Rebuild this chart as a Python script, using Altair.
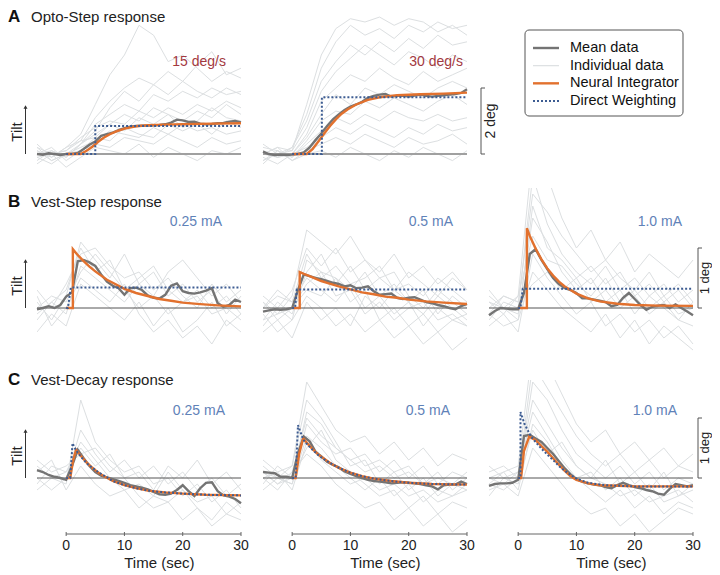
import altair as alt
import pandas as pd

FONT = "Liberation Sans"

# ---------------- data ----------------
T_MEAN = list(range(-5, 31))
T_IND = [-5, -2.5, 0, 2.5, 5, 7.5, 10, 12.5, 15, 17.5, 20, 22.5, 25, 27.5, 30]
T_SPAN = [-5, 30]

ROW_LETTERS = ["A", "B", "C"]
ROW_TITLES = ["Opto-Step response", "Vest-Step response", "Vest-Decay response"]
PANEL_LABELS = [["15 deg/s", "30 deg/s"],
                ["0.25 mA", "0.5 mA", "1.0 mA"],
                ["0.25 mA", "0.5 mA", "1.0 mA"]]
LEGEND_NAMES = ["Mean data", "Individual data", "Neural Integrator", "Direct Weighting"]
X_TICKS = [0, 10, 20, 30]
X_AXIS_SPAN = [0, 30]
SCALE_BARS = [2, 1, 1]
SCALE_LABELS = ["2 deg", "1 deg", "1 deg"]
X_TITLE = "Time (sec)"

# Row A: Opto-Step
A1_MEAN = [0.0, -0.02, 0.02, 0.0, -0.03, 0.0, 0.0, 0.03, 0.15, 0.28, 0.38, 0.55, 0.6, 0.65, 0.72, 0.78,
           0.83, 0.85, 0.86, 0.86, 0.87, 0.88, 0.9, 0.95, 1.04, 1.02, 0.97, 0.98, 0.92, 0.9, 0.91, 0.93,
           0.94, 0.98, 1.0, 0.96]
A1_NI_T = [0, 2.5, 3.5, 4.5, 5.5, 6.5, 7.5, 8.5, 10, 12, 14, 17, 20, 25, 30]
A1_NI_V = [0, 0, 0.1, 0.22, 0.37, 0.5, 0.6, 0.68, 0.77, 0.84, 0.87, 0.89, 0.9, 0.92, 0.93]
A1_DW_T = [0, 5, 5, 30]
A1_DW_V = [0, 0, 0.85, 0.85]
A1_IND = [
    [0.1, -0.1, 0.2, 0.6, 1.5, 2.4, 3.0, 3.9, 3.6, 2.8, 3.0, 2.6, 2.2, 2.5, 2.3],
    [-0.2, 0.1, -0.1, 0.3, 0.9, 1.2, 1.5, 1.3, 1.8, 1.6, 1.9, 1.7, 2.0, 1.8, 1.9],
    [0.2, 0.0, 0.1, 0.5, 0.8, 1.0, 0.9, 1.3, 1.1, 1.4, 1.2, 1.5, 1.3, 1.6, 1.4],
    [-0.1, -0.3, 0.0, 0.2, 0.4, 0.7, 0.6, 0.5, 0.8, 0.6, 0.9, 0.7, 0.8, 0.6, 0.7],
    [0.0, 0.2, -0.2, 0.1, 0.3, 0.2, 0.5, 0.4, 0.3, 0.6, 0.4, 0.2, 0.5, 0.3, 0.4],
    [0.3, -0.1, 0.2, 0.4, 1.1, 1.6, 2.0, 2.3, 2.1, 2.5, 2.2, 2.7, 3.1, 2.4, 2.6],
    [-0.3, 0.0, -0.4, -0.1, 0.2, 0.1, 0.0, 0.3, -0.1, 0.2, 0.0, -0.2, 0.1, 0.0, 0.2],
    [0.1, -0.2, 0.0, 0.3, 0.6, 0.9, 1.2, 1.0, 1.4, 1.2, 1.0, 1.3, 1.1, 1.5, 1.2],
    [0.0, 0.1, -0.1, 0.3, 0.7, 1.4, 1.9, 1.6, 2.1, 1.8, 2.2, 1.9, 1.7, 2.0, 1.8],
    [-0.1, 0.0, 0.1, 0.4, 0.5, 0.9, 0.7, 1.1, 0.9, 1.2, 0.8, 1.0, 1.4, 1.1, 1.0],
    [0.2, -0.2, 0.0, 0.1, 0.5, 0.4, 0.8, 0.6, 0.5, 0.9, 0.7, 0.9, 0.6, 1.0, 0.8],
]

A2_MEAN = [0.07, 0.0, -0.03, -0.02, -0.03, -0.02, 0.0, 0.05, 0.2, 0.42, 0.62, 0.85, 1.05, 1.2, 1.33, 1.44,
           1.5, 1.58, 1.7, 1.76, 1.8, 1.82, 1.74, 1.76, 1.77, 1.74, 1.77, 1.8, 1.76, 1.74, 1.76, 1.78,
           1.8, 1.82, 1.85, 1.96]
A2_NI_T = [0, 2.5, 3.5, 4.5, 5.5, 6.5, 7.5, 8.5, 9.5, 11, 13, 15, 18, 22, 26, 30]
A2_NI_V = [0, 0, 0.15, 0.38, 0.62, 0.85, 1.05, 1.22, 1.35, 1.5, 1.64, 1.72, 1.78, 1.81, 1.83, 1.86]
A2_DW_T = [0, 5.1, 5.1, 30]
A2_DW_V = [0, 0, 1.72, 1.72]
A2_IND = [
    [0.0, 0.2, 0.1, 1.5, 3.0, 3.8, 4.1, 4.0, 4.15, 3.9, 4.1, 4.0, 3.7, 3.9, 3.6],
    [-0.2, 0.0, 0.2, 1.0, 2.2, 2.8, 3.3, 3.0, 3.4, 3.1, 3.5, 3.2, 3.6, 3.3, 3.4],
    [0.1, -0.1, 0.0, 0.6, 1.6, 2.0, 2.4, 2.2, 2.6, 2.3, 2.1, 2.5, 2.2, 2.4, 2.6],
    [0.2, 0.1, -0.1, 0.4, 1.0, 1.3, 1.2, 1.6, 1.4, 1.7, 1.5, 1.3, 1.6, 1.8, 1.5],
    [-0.1, -0.3, 0.0, 0.2, 0.5, 0.8, 0.6, 0.9, 0.7, 0.5, 0.8, 0.6, 0.9, 0.7, 0.8],
    [0.0, 0.2, -0.2, 0.1, 0.3, 0.5, 0.3, 0.6, 0.4, 0.2, 0.5, 0.3, 0.4, 0.6, 0.3],
    [0.3, 0.0, 0.1, 0.8, 1.9, 2.5, 2.9, 3.3, 3.0, 2.7, 3.1, 2.9, 2.6, 3.0, 2.8],
    [-0.3, 0.1, -0.2, 0.0, 0.1, -0.1, 0.2, 0.0, -0.2, 0.1, -0.1, 0.2, 0.0, -0.2, 0.1],
    [0.1, -0.1, 0.0, 0.5, 1.2, 1.8, 1.5, 2.0, 1.8, 2.1, 1.9, 1.7, 2.0, 2.2, 2.0],
    [-0.2, 0.1, -0.1, 0.3, 0.7, 1.1, 0.9, 1.2, 1.0, 1.3, 1.1, 1.0, 1.2, 1.0, 1.1],
    [0.0, -0.1, 0.2, 1.2, 2.6, 3.4, 3.9, 3.6, 3.8, 3.5, 3.9, 3.7, 4.0, 3.8, 3.9],
]

# Row B: Vest-Step
B1_MEAN = [-0.02, 0.0, 0.03, 0.0, 0.05, 0.19, 0.26, 0.78, 0.8, 0.76, 0.7, 0.56, 0.44, 0.37, 0.33, 0.22,
           0.33, 0.34, 0.3, 0.21, 0.17, 0.16, 0.22, 0.37, 0.41, 0.28, 0.25, 0.24, 0.26, 0.29, 0.33, 0.08,
           0.02, 0.05, 0.14, 0.1]
B1_NI_T = [0, 1.15, 1.15, 2, 3, 4, 5, 6, 7, 8, 10, 12, 14, 16, 18, 20, 23, 26, 30]
B1_NI_V = [0, 0, 0.98, 0.88, 0.78, 0.69, 0.61, 0.54, 0.47, 0.42, 0.32, 0.25, 0.2, 0.15, 0.12, 0.09,
           0.064, 0.044, 0.027]
B1_DW_T = [0, 0.3, 0.8, 30]
B1_DW_V = [0, 0, 0.34, 0.34]
B1_IND = [
    [0.1, -0.2, 0.2, 1.1, 0.8, 0.5, 0.9, 0.4, 0.6, 0.2, 0.4, 0.1, 0.3, -0.1, 0.2],
    [-0.2, 0.1, -0.1, 0.7, 0.5, 0.3, 0.1, 0.4, 0.2, -0.1, 0.1, 0.3, 0.0, 0.2, -0.1],
    [0.3, 0.0, 0.4, 0.9, 1.0, 0.7, 0.5, 0.6, 0.3, 0.5, 0.2, 0.0, 0.4, 0.1, 0.3],
    [-0.4, -0.1, -0.3, 0.4, 0.2, 0.0, -0.2, 0.1, -0.3, 0.0, -0.4, -0.2, 0.1, -0.3, -0.1],
    [0.0, 0.2, 0.1, 0.6, 0.9, 0.6, 0.3, 0.0, 0.2, 0.6, 0.8, 0.5, 0.2, 0.4, 0.1],
    [0.2, -0.3, 0.0, 0.5, 0.3, 0.1, 0.4, -0.1, -0.4, -0.2, -0.5, -0.3, -0.6, -0.2, -0.4],
    [-0.1, 0.1, 0.3, 1.0, 0.6, 0.8, 0.3, 0.5, 0.7, 0.3, 0.1, 0.2, -0.1, 0.0, -0.2],
]

B2_MEAN = [-0.06, -0.04, -0.02, -0.03, -0.02, 0.0, 0.3, 0.56, 0.53, 0.5, 0.48, 0.45, 0.42, 0.4, 0.36, 0.38,
           0.33, 0.34, 0.36, 0.28, 0.22, 0.23, 0.24, 0.17, 0.15, 0.17, 0.18, 0.14, 0.1, 0.08, 0.05, 0.03,
           0.0, -0.02, 0.03, 0.07]
B2_NI_T = [0, 1.3, 1.3, 2, 3, 4, 5, 6, 8, 10, 12, 14, 16, 18, 20, 23, 26, 30]
B2_NI_V = [0, 0, 0.6, 0.57, 0.53, 0.49, 0.45, 0.42, 0.36, 0.31, 0.26, 0.23, 0.19, 0.17, 0.14, 0.11,
           0.09, 0.066]
B2_DW_T = [0, 0.5, 0.8, 30]
B2_DW_V = [0, 0, 0.31, 0.31]
B2_IND = [
    [0.1, -0.1, 0.2, 1.3, 1.1, 0.9, 1.2, 0.8, 0.6, 0.9, 0.5, 0.7, 0.4, 0.6, 0.3],
    [-0.3, 0.0, -0.2, 0.8, 0.6, 0.5, 0.3, 0.6, 0.2, 0.4, 0.1, 0.3, -0.1, 0.2, 0.0],
    [0.0, 0.2, 0.1, 0.5, 0.3, 0.1, 0.4, 0.0, 0.2, -0.1, 0.1, -0.3, 0.0, -0.2, -0.1],
    [-0.1, -0.4, -0.2, 0.2, 0.0, -0.3, -0.1, -0.4, -0.2, -0.5, -0.3, -0.6, -0.4, -0.7, -0.5],
    [0.2, 0.0, 0.3, 1.0, 0.7, 1.0, 0.6, 0.8, 0.5, 0.3, 0.6, 0.4, 0.2, 0.5, 0.3],
    [-0.2, 0.1, -0.1, 0.6, 0.9, 0.4, 0.7, 0.3, 0.5, 0.6, 0.2, 0.0, 0.3, 0.1, -0.1],
    [0.1, -0.2, 0.0, 0.3, 0.2, 0.5, 0.1, 0.3, -0.2, 0.0, -0.3, -0.1, -0.4, -0.2, -0.3],
    [-0.4, -0.2, -0.5, 0.1, -0.2, 0.0, -0.3, 0.2, 0.0, 0.3, 0.1, -0.1, 0.2, 0.0, -0.2],
    [0.0, 0.3, 0.1, 0.9, 0.5, 0.7, 0.4, 0.5, 0.7, 0.3, 0.4, 0.2, 0.5, 0.3, 0.1],
    [-0.2, -0.1, 0.0, 0.4, 0.6, 0.2, 0.3, -0.1, 0.1, -0.2, 0.0, 0.1, -0.2, -0.1, -0.3],
]

B3_MEAN = [-0.12, -0.05, 0.0, -0.01, -0.02, -0.02, 0.25, 0.9, 0.98, 0.8, 0.65, 0.5, 0.4, 0.33, 0.3, 0.25,
           0.16, 0.16, 0.14, 0.12, 0.1, 0.03, 0.05, 0.17, 0.25, 0.15, 0.05, -0.03, 0.02, 0.04, 0.05, 0.0,
           0.06, 0.0, -0.06, -0.12]
B3_NI_T = [0, 1.5, 1.5, 2, 3, 4, 5, 6, 7, 8, 9, 10, 12, 14, 17, 20, 24, 30]
B3_NI_V = [0, 0, 1.33, 1.2, 0.99, 0.81, 0.66, 0.54, 0.44, 0.36, 0.3, 0.24, 0.16, 0.11, 0.07, 0.05,
           0.04, 0.035]
B3_DW_T = [0, 0.4, 0.8, 30]
B3_DW_V = [0, 0, 0.32, 0.32]
B3_IND = [
    [0.1, -0.1, 0.2, 2.6, 2.2, 1.5, 1.0, 1.3, 0.8, 1.1, 0.6, 0.9, 0.7, 0.5, 0.8],
    [-0.2, 0.1, 0.0, 2.2, 1.4, 0.9, 0.6, 0.4, 0.7, 0.3, 0.5, 0.2, 0.4, 0.1, 0.3],
    [0.2, 0.0, -0.1, 1.5, 1.1, 0.6, 0.3, 0.5, 0.1, 0.3, -0.1, 0.2, 0.0, -0.2, 0.1],
    [-0.3, -0.1, -0.4, 0.9, 0.5, 0.2, -0.1, 0.1, -0.3, -0.1, -0.4, -0.2, -0.5, -0.3, -0.6],
    [0.0, 0.2, 0.1, 1.9, 1.6, 1.2, 0.9, 0.6, 0.8, 0.5, 0.3, 0.6, 0.2, 0.4, 0.1],
    [-0.1, -0.3, -0.2, 0.6, 0.3, 0.0, -0.2, -0.4, -0.1, -0.5, -0.2, -0.6, -0.3, -0.5, -0.7],
    [0.3, 0.0, 0.2, 1.2, 0.8, 0.7, 0.4, 0.2, 0.5, 0.1, 0.3, 0.0, 0.2, -0.1, 0.0],
    [0.1, 0.0, -0.2, 1.7, 1.0, 0.8, 0.5, 0.7, 0.4, 0.6, 0.2, 0.4, 0.1, 0.3, 0.0],
    [-0.1, 0.2, 0.1, 0.4, 0.6, 0.3, 0.5, 0.1, 0.3, 0.0, 0.2, -0.1, 0.1, -0.2, -0.3],
]

# Row C: Vest-Decay
C1_MEAN = [0.13, 0.1, 0.05, 0.02, 0.0, -0.03, 0.2, 0.47, 0.33, 0.2, 0.1, 0.04, 0.01, -0.02, -0.05, -0.08,
           -0.12, -0.14, -0.16, -0.19, -0.23, -0.27, -0.28, -0.26, -0.2, -0.12, -0.22, -0.3, -0.17, -0.08,
           -0.07, -0.22, -0.29, -0.31, -0.35, -0.42]
C1_NI_T = [0, 0.7, 1.2, 1.7, 2.5, 3.5, 4.5, 5.5, 6.5, 8, 10, 12, 14, 17, 20, 24, 30]
C1_NI_V = [0, 0, 0.3, 0.47, 0.37, 0.26, 0.17, 0.09, 0.03, -0.05, -0.12, -0.17, -0.21, -0.24, -0.26,
           -0.28, -0.29]
C1_DW_T = [0, 0.7, 1.1, 1.7, 2.5, 3.5, 4.5, 5.5, 6.5, 8, 10, 12, 14, 17, 20, 24, 30]
C1_DW_V = [0, 0, 0.58, 0.46, 0.36, 0.25, 0.17, 0.1, 0.04, -0.05, -0.12, -0.17, -0.21, -0.24, -0.26,
           -0.28, -0.29]
C1_IND = [
    [0.2, 0.0, -0.1, 1.3, 0.6, 0.3, 0.1, 0.2, -0.1, 0.0, -0.3, -0.1, -0.4, -0.2, -0.5],
    [-0.1, 0.2, 0.1, 0.6, 0.3, 0.0, -0.2, -0.1, -0.3, 0.1, -0.2, -0.4, -0.3, -0.6, -0.4],
    [0.3, 0.1, 0.2, 0.4, 0.5, 0.2, 0.0, -0.3, -0.5, -0.4, -0.7, -0.5, -0.8, -0.6, -0.7],
    [0.0, -0.2, 0.0, 0.8, 0.4, 0.1, 0.3, 0.0, 0.2, -0.1, 0.1, -0.2, 0.0, -0.3, -0.1],
    [0.1, 0.3, -0.2, 0.2, -0.1, -0.3, -0.2, -0.5, -0.3, -0.4, -0.2, -0.5, -0.7, -0.4, -0.6],
    [-0.2, 0.0, 0.1, 0.5, 0.2, 0.4, 0.0, 0.1, -0.2, 0.2, 0.0, 0.3, -0.1, 0.1, -0.2],
]

C2_MEAN = [0.1, 0.09, 0.08, 0.02, 0.02, 0.0, 0.41, 0.69, 0.61, 0.44, 0.36, 0.27, 0.22, 0.18, 0.11, 0.07,
           0.03, 0.0, -0.03, -0.05, -0.06, -0.07, -0.09, -0.08, -0.07, -0.08, -0.09, -0.1, -0.12, -0.14,
           -0.19, -0.12, -0.11, -0.11, -0.06, -0.1]
C2_NI_T = [0, 0.6, 1.2, 1.9, 2.5, 3.5, 4.5, 5.5, 6.5, 8, 10, 12, 14, 17, 20, 24, 30]
C2_NI_V = [0, 0, 0.4, 0.66, 0.59, 0.48, 0.39, 0.32, 0.25, 0.17, 0.09, 0.03, -0.01, -0.05, -0.08, -0.1,
           -0.11]
C2_DW_T = [0, 0.6, 1.0, 1.9, 2.5, 3.5, 4.5, 5.5, 6.5, 8, 10, 12, 14, 17, 20, 24, 30]
C2_DW_V = [0, 0, 0.88, 0.64, 0.57, 0.47, 0.38, 0.31, 0.25, 0.17, 0.09, 0.03, -0.01, -0.05, -0.08, -0.1,
           -0.11]
C2_IND = [
    [0.1, 0.0, 0.2, 1.6, 1.2, 0.8, 0.6, 0.7, 0.4, 0.6, 0.3, 0.5, 0.2, 0.4, 0.3],
    [-0.1, 0.2, 0.0, 1.1, 0.9, 0.5, 0.3, 0.4, 0.1, 0.3, 0.0, 0.2, -0.1, 0.1, 0.0],
    [0.2, 0.0, -0.1, 0.7, 0.5, 0.2, 0.0, -0.2, 0.0, -0.3, -0.1, -0.4, -0.2, -0.3, -0.1],
    [0.0, -0.2, 0.1, 0.4, 0.2, -0.1, -0.3, -0.5, -0.4, -0.7, -0.5, -0.8, -0.6, -0.9, -0.7],
    [0.3, 0.1, 0.2, 1.3, 1.0, 0.6, 0.2, 0.3, -0.1, 0.1, -0.2, 0.0, -0.3, -0.1, -0.2],
    [-0.2, 0.0, -0.1, 0.9, 0.6, 0.4, 0.5, 0.2, 0.3, 0.1, 0.2, -0.1, 0.1, -0.2, 0.0],
    [0.1, -0.1, 0.0, 0.5, 0.8, 0.3, 0.1, -0.1, -0.3, -0.2, -0.5, -0.3, -0.6, -0.4, -0.5],
    [0.0, 0.1, -0.2, 0.6, 0.3, 0.1, -0.1, 0.0, -0.2, -0.1, -0.3, -0.2, -0.4, -0.3, -0.2],
    [0.1, -0.1, 0.1, 1.0, 0.7, 0.5, 0.3, 0.1, 0.2, 0.0, 0.1, -0.1, 0.0, -0.1, 0.1],
]

C3_MEAN = [-0.13, -0.1, -0.09, -0.09, -0.08, -0.03, 0.7, 0.72, 0.66, 0.6, 0.5, 0.4, 0.28, 0.16, 0.06,
           -0.02, -0.06, -0.09, -0.11, -0.12, -0.15, -0.17, -0.12, -0.08, -0.12, -0.15, -0.17, -0.2,
           -0.22, -0.26, -0.28, -0.18, -0.1, -0.12, -0.14, -0.12]
C3_NI_T = [0, 0.5, 1.0, 1.9, 3, 4, 5, 6, 7, 8, 9, 10, 12, 14, 17, 20, 24, 30]
C3_NI_V = [0, 0, 0.45, 0.69, 0.63, 0.53, 0.44, 0.33, 0.22, 0.12, 0.03, -0.03, -0.09, -0.12, -0.13,
           -0.14, -0.14, -0.14]
C3_DW_T = [0, 0.4, 0.4, 1.1, 2.2, 3, 4, 5, 6, 7, 8, 9, 10, 12, 15, 20, 25, 30]
C3_DW_V = [0, 0, 1.1, 0.9, 0.69, 0.6, 0.49, 0.39, 0.3, 0.2, 0.12, 0.05, -0.01, -0.08, -0.12, -0.14,
           -0.14, -0.14]
C3_IND = [
    [0.0, 0.1, 0.2, 2.2, 1.9, 1.4, 0.9, 0.6, 0.8, 0.4, 0.6, 0.3, 0.5, 0.2, 0.4],
    [-0.1, -0.2, 0.0, 1.6, 1.3, 0.8, 0.4, 0.2, 0.0, 0.2, -0.1, 0.1, -0.2, 0.0, -0.1],
    [0.2, 0.0, 0.1, 1.1, 0.7, 0.3, 0.0, -0.2, -0.4, -0.2, -0.5, -0.3, -0.6, -0.4, -0.5],
    [-0.2, -0.1, -0.3, 0.5, 0.2, -0.1, -0.4, -0.6, -0.5, -0.8, -0.6, -0.9, -0.7, -0.5, -0.6],
    [0.1, 0.2, 0.0, 1.9, 1.5, 1.1, 0.7, 0.4, 0.2, 0.4, 0.1, 0.3, 0.0, 0.2, 0.1],
    [-0.3, 0.0, -0.1, 0.8, 0.4, 0.6, 0.2, 0.0, 0.3, -0.1, 0.1, -0.2, 0.1, -0.3, -0.2],
    [0.0, -0.1, 0.1, 1.3, 0.9, 0.5, 0.2, 0.0, -0.1, -0.3, -0.2, -0.4, -0.3, -0.2, -0.4],
    [-0.1, 0.1, -0.2, 0.9, 0.6, 0.2, 0.0, 0.1, -0.2, 0.0, -0.3, -0.1, -0.4, -0.3, -0.1],
]

PANELS = [
    [dict(mean=A1_MEAN, ni_t=A1_NI_T, ni_v=A1_NI_V, dw_t=A1_DW_T, dw_v=A1_DW_V, ind=A1_IND),
     dict(mean=A2_MEAN, ni_t=A2_NI_T, ni_v=A2_NI_V, dw_t=A2_DW_T, dw_v=A2_DW_V, ind=A2_IND)],
    [dict(mean=B1_MEAN, ni_t=B1_NI_T, ni_v=B1_NI_V, dw_t=B1_DW_T, dw_v=B1_DW_V, ind=B1_IND),
     dict(mean=B2_MEAN, ni_t=B2_NI_T, ni_v=B2_NI_V, dw_t=B2_DW_T, dw_v=B2_DW_V, ind=B2_IND),
     dict(mean=B3_MEAN, ni_t=B3_NI_T, ni_v=B3_NI_V, dw_t=B3_DW_T, dw_v=B3_DW_V, ind=B3_IND)],
    [dict(mean=C1_MEAN, ni_t=C1_NI_T, ni_v=C1_NI_V, dw_t=C1_DW_T, dw_v=C1_DW_V, ind=C1_IND),
     dict(mean=C2_MEAN, ni_t=C2_NI_T, ni_v=C2_NI_V, dw_t=C2_DW_T, dw_v=C2_DW_V, ind=C2_IND),
     dict(mean=C3_MEAN, ni_t=C3_NI_T, ni_v=C3_NI_V, dw_t=C3_DW_T, dw_v=C3_DW_V, ind=C3_IND)],
]

# ---------------- styling / layout ----------------
W = 206          # panel box width (includes a small right margin)
PLOT_W = 204     # width used by the time axis
ROW_H = [162, 173, 154]
Y_DOM = [[-24 / 33, 138 / 33], [-53 / 60, 2.0], [-56 / 60, 98 / 60]]
TITLE_BASE = [6, 19, 5]
ZERO_PX = [138, 120, 98]
LABEL_POS = [[(189, 46), (200, 46)],
             [(185, 34), (190, 34), (193, 34)],
             [(188, 31), (187, 31), (188, 31)]]
BAR_X = [218, 209, 209]
BAR_LABEL_DX = [10, 6.5, 6.5]
BAR_FONT = [14, 13, 13]
LABEL_C = ["#a3393f", "#5f82b8", "#5f82b8"]
ZERO_C = ["#a0a0a0", "#555555", "#555555"]
ZERO_W = [2, 1, 1]
IND_C = "#dcdfe1"
MEAN_C = "#747474"
NI_C = "#e2712e"
DW_C = "#3d5c92"
INK = "#333333"


def line_df(t, v):
    return pd.DataFrame({"t": t, "v": v, "i": list(range(len(t)))})


def ind_df(traces):
    rows = []
    for k, tr in enumerate(traces):
        for t, v in zip(T_IND, tr):
            rows.append({"t": t, "v": v, "trial": k})
    return pd.DataFrame(rows)


ONE = pd.DataFrame({"k": [0]})


def txt(s, **kw):
    return alt.Chart(pd.DataFrame({"s": [s]})).mark_text(font=FONT, **kw)


def make_panel(r, c, p):
    H = ROW_H[r]
    xs = alt.Scale(domain=T_SPAN, range=[0, PLOT_W], nice=False, zero=False)
    ys = alt.Scale(domain=Y_DOM[r], nice=False, zero=False)
    ex = alt.X("t:Q", scale=xs, axis=None)
    ey = alt.Y("v:Q", scale=ys, axis=None)
    zero = pd.DataFrame({"t": [T_SPAN[0]], "t2": [T_SPAN[1]], "v": [0]})
    layers = [
        alt.Chart(ind_df(p["ind"])).mark_line(color=IND_C, strokeWidth=1, clip=True)
        .encode(x=ex, y=ey, detail="trial:N"),
        alt.Chart(zero).mark_rule(color=ZERO_C[r], strokeWidth=ZERO_W[r])
        .encode(x=ex, x2="t2:Q", y=ey),
        alt.Chart(line_df(T_MEAN, p["mean"])).mark_line(color=MEAN_C, strokeWidth=2.4)
        .encode(x=ex, y=ey, order="i:Q"),
        alt.Chart(line_df(p["ni_t"], p["ni_v"])).mark_line(color=NI_C, strokeWidth=2.4)
        .encode(x=ex, y=ey, order="i:Q"),
        alt.Chart(line_df(p["dw_t"], p["dw_v"])).mark_line(color=DW_C, strokeWidth=2, strokeDash=[2, 2])
        .encode(x=ex, y=ey, order="i:Q"),
    ]
    lx, ly = LABEL_POS[r][c]
    layers.append(txt(PANEL_LABELS[r][c], align="right", baseline="middle", fontSize=14,
                      color=LABEL_C[r]).encode(x=alt.value(lx), y=alt.value(ly), text="s:N"))
    if c == 0:
        z = ZERO_PX[r]
        layers += [
            txt(ROW_LETTERS[r], align="left", baseline="alphabetic", fontSize=17, fontWeight="bold",
                color="#111111").encode(x=alt.value(-29), y=alt.value(TITLE_BASE[r]), text="s:N"),
            txt(ROW_TITLES[r], align="left", baseline="alphabetic", fontSize=15,
                color="#222222").encode(x=alt.value(-6), y=alt.value(TITLE_BASE[r]), text="s:N"),
            txt("Tilt", align="center", baseline="middle", fontSize=15, angle=270,
                color="#222222").encode(x=alt.value(-20.5), y=alt.value(z - 22), text="s:N"),
            alt.Chart(ONE).mark_rule(color=INK, strokeWidth=1)
            .encode(x=alt.value(-11.5), y=alt.value(z), y2=alt.value(z - 46)),
            alt.Chart(ONE).mark_point(shape="triangle-up", filled=True, size=16, color=INK, opacity=1)
            .encode(x=alt.value(-11.5), y=alt.value(z - 47)),
        ]
    last = len(PANELS[r]) - 1
    if c == last:
        bx = BAR_X[r]
        sb = SCALE_BARS[r]
        bar = pd.DataFrame({"a": [0], "b": [sb], "m": [sb / 2], "s": [SCALE_LABELS[r]]})
        layers += [
            alt.Chart(bar).mark_rule(color="#555555", strokeWidth=1)
            .encode(x=alt.value(bx), y=alt.Y("a:Q", scale=ys, axis=None), y2="b:Q"),
            alt.Chart(bar).mark_rule(color="#555555", strokeWidth=1)
            .encode(x=alt.value(bx), x2=alt.value(bx + 4), y=alt.Y("a:Q", scale=ys, axis=None)),
            alt.Chart(bar).mark_rule(color="#555555", strokeWidth=1)
            .encode(x=alt.value(bx), x2=alt.value(bx + 4), y=alt.Y("b:Q", scale=ys, axis=None)),
            alt.Chart(bar).mark_text(font=FONT, align="center", baseline="middle", fontSize=BAR_FONT[r],
                                     angle=270, color="#222222")
            .encode(x=alt.value(bx + BAR_LABEL_DX[r]), y=alt.Y("m:Q", scale=ys, axis=None), text="s:N"),
        ]
    if r == 2:
        tk = pd.DataFrame({"t": X_TICKS})
        span = pd.DataFrame({"t": [X_AXIS_SPAN[0]], "t2": [X_AXIS_SPAN[1]]})
        ttl = pd.DataFrame({"t": [16], "s": [X_TITLE]})
        layers += [
            alt.Chart(span).mark_rule(color="#666666", strokeWidth=1)
            .encode(x=ex, x2="t2:Q", y=alt.value(H)),
            alt.Chart(tk).mark_rule(color="#666666", strokeWidth=1)
            .encode(x=ex, y=alt.value(H - 2), y2=alt.value(H + 2)),
            alt.Chart(tk).mark_text(font=FONT, fontSize=14, baseline="middle", color="#222222")
            .encode(x=ex, y=alt.value(H + 12), text="t:Q"),
            alt.Chart(ttl).mark_text(font=FONT, align="center", baseline="middle", fontSize=15,
                                     color="#222222")
            .encode(x=ex, y=alt.value(H + 29), text="s:N"),
        ]
    return alt.layer(*layers).properties(width=W, height=H)


def make_legend():
    leg = pd.DataFrame({"name": LEGEND_NAMES})
    ysc = alt.Scale(type="point", domain=LEGEND_NAMES, range=[32, 85], padding=0)
    ey = alt.Y("name:N", scale=ysc, axis=None)
    styles = [
        dict(color=MEAN_C, strokeWidth=2.4),
        dict(color=IND_C, strokeWidth=1.2),
        dict(color=NI_C, strokeWidth=2.4),
        dict(color=DW_C, strokeWidth=2, strokeDash=[2, 2]),
    ]
    layers = [
        alt.Chart(ONE).mark_rect(fillOpacity=0, stroke="#555555", strokeWidth=1, cornerRadius=4)
        .encode(x=alt.value(36), x2=alt.value(194), y=alt.value(14), y2=alt.value(100)),
    ]
    for n, st in zip(LEGEND_NAMES, styles):
        layers.append(alt.Chart(leg).transform_filter(alt.datum.name == n).mark_rule(**st)
                      .encode(x=alt.value(44), x2=alt.value(70), y=ey))
    layers.append(alt.Chart(leg).mark_text(font=FONT, fontSize=14.5, align="left", baseline="middle",
                                           color="#111111")
                  .encode(x=alt.value(81), y=ey, text="name:N"))
    return alt.layer(*layers).properties(width=W, height=ROW_H[0])


rows = []
for r in range(3):
    charts = [make_panel(r, c, p) for c, p in enumerate(PANELS[r])]
    if r == 0:
        charts.append(make_legend())
    rows.append(alt.hconcat(*charts, spacing=20, bounds="flush"))

chart = alt.vconcat(*rows, spacing=10).configure_view(stroke=None).properties(
    padding={"left": 0, "top": 0, "right": 0, "bottom": 0}
)

chart.save("out.html", embed_options={"renderer": "svg", "actions": False})
